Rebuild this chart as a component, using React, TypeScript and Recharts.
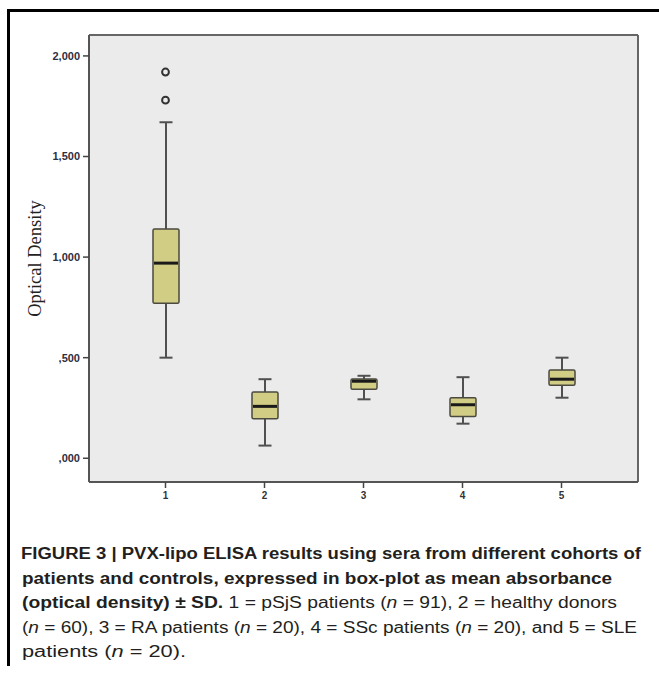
import React from 'react';
import { ComposedChart, Bar, Scatter, XAxis, YAxis, CartesianGrid } from 'recharts';

const groups = ['1', '2', '3', '4', '5'];
const whiskerLow = [0.5, 0.063, 0.293, 0.172, 0.301];
const quartile1 = [0.77, 0.197, 0.343, 0.207, 0.363];
const medians = [0.97, 0.258, 0.383, 0.266, 0.393];
const quartile3 = [1.14, 0.33, 0.394, 0.301, 0.439];
const whiskerHigh = [1.67, 0.393, 0.41, 0.403, 0.5];
const outlierGroups = ['1', '1'];
const outlierValues = [1.92, 1.78];
const yTicks = [0, 0.5, 1, 1.5, 2];
const Y_MIN = -0.118;
const Y_MAX = 2.104;

const boxData = groups.map((g, i) => ({
  g,
  lo: whiskerLow[i],
  q1: quartile1[i],
  med: medians[i],
  q3: quartile3[i],
  hi: whiskerHigh[i],
}));
const outlierData = outlierGroups.map((g, i) => ({ g, v: outlierValues[i] }));

const fmt = (v: number) => v.toFixed(3).replace('.', ',').replace(/^0/, '');

const BoxShape = (props: any) => {
  const { x, y, width, height, payload } = props;
  if (payload == null) return null;
  const top = Math.min(y, y + height);
  const h = Math.abs(height);
  const { lo, q1, med, q3, hi } = payload;
  const py = (v: number) => top + ((hi - v) / (hi - lo)) * h;
  const cx = x + width / 2;
  const capW = width / 2;
  const ws = '#505050';
  return (
    <g>
      <line x1={cx} x2={cx} y1={py(hi)} y2={py(q3)} stroke={ws} strokeWidth={2} />
      <line x1={cx} x2={cx} y1={py(q1)} y2={py(lo)} stroke={ws} strokeWidth={2} />
      <line x1={cx - capW / 2} x2={cx + capW / 2} y1={py(hi)} y2={py(hi)} stroke={ws} strokeWidth={2} />
      <line x1={cx - capW / 2} x2={cx + capW / 2} y1={py(lo)} y2={py(lo)} stroke={ws} strokeWidth={2} />
      <rect x={x} y={py(q3)} width={width} height={py(q1) - py(q3)} rx={1.5} fill="#D2CD84" stroke="#4a4a40" strokeWidth={1.5} />
      <line x1={x + 1} x2={x + width - 1} y1={py(med)} y2={py(med)} stroke="#1a1a1a" strokeWidth={3} />
    </g>
  );
};

const OutlierShape = (props: any) => {
  const { cx, cy } = props;
  return <circle cx={cx} cy={cy} r={3.4} fill="#EBEBEB" stroke="#333" strokeWidth={2} />;
};

const YLabel = (props: any) => {
  const vb = props.viewBox || {};
  const x = (vb.x ?? 0) + 6;
  const y = (vb.y ?? 0) + (vb.height ?? 0) / 2;
  return (
    <text
      x={x}
      y={y}
      transform={`rotate(-90, ${x}, ${y})`}
      textAnchor="middle"
      dominantBaseline="central"
      fontFamily="'Liberation Serif', 'Times New Roman', serif"
      fontSize={18.5}
      fill="#222"
    >
      Optical Density
    </text>
  );
};

const capFont = "'Liberation Sans', Arial, Helvetica, sans-serif";

const edgeRows = (p: any) => {
  const o = p.offset || {};
  return [o.top, o.top + o.height];
};
const edgeCols = (p: any) => {
  const o = p.offset || {};
  return [o.left, o.left + o.width];
};

export default function App() {
  return (
    <div style={{ position: 'absolute', left: 0, top: 0, width: 659, height: 674, background: '#fff', overflow: 'hidden' }}>
      <ComposedChart
        width={659}
        height={520}
        data={boxData}
        margin={{ top: 35, right: 21, left: 29, bottom: 8 }}
      >
        <CartesianGrid
          fill="#EBEBEB"
          fillOpacity={1}
          stroke="#666"
          strokeWidth={2}
          horizontalCoordinatesGenerator={edgeRows}
          verticalCoordinatesGenerator={edgeCols}
        />
        <XAxis
          dataKey="g"
          type="category"
          allowDuplicatedCategory={false}
          padding={{ left: 27, right: 27 }}
          height={30}
          tickSize={6}
          tickMargin={4}
          axisLine={{ stroke: '#555', strokeWidth: 2 }}
          tickLine={{ stroke: '#444', strokeWidth: 1.5 }}
          tick={{ fontSize: 10, fontWeight: 'bold', fill: '#333', fontFamily: capFont }}
        />
        <YAxis
          type="number"
          domain={[Y_MIN, Y_MAX]}
          allowDataOverflow
          ticks={yTicks}
          tickFormatter={fmt}
          width={60}
          tickSize={6}
          tickMargin={3}
          axisLine={{ stroke: '#555', strokeWidth: 2 }}
          tickLine={{ stroke: '#444', strokeWidth: 1.5 }}
          tick={{ fontSize: 11, fontWeight: 'bold', fill: '#2e2e3e', fontFamily: capFont }}
          label={<YLabel />}
        />
        <Bar
          dataKey={(d: any) => [d.lo, d.hi]}
          barSize={26}
          shape={<BoxShape />}
          isAnimationActive={false}
        />
        <Scatter data={outlierData} dataKey="v" shape={<OutlierShape />} isAnimationActive={false} />
      </ComposedChart>
      <svg width={659} height={674} style={{ position: 'absolute', left: 0, top: 0, pointerEvents: 'none' }}>
        <g fontFamily={capFont} fontSize={16} fill="#231f20">
          <text x={21} y={559} fontWeight="bold" textLength={620} lengthAdjust="spacingAndGlyphs">
            FIGURE 3 | PVX-lipo ELISA results using sera from different cohorts of
          </text>
          <text x={22} y={584} fontWeight="bold" textLength={590} lengthAdjust="spacingAndGlyphs">
            patients and controls, expressed in box-plot as mean absorbance
          </text>
          <text x={22} y={608} textLength={595} lengthAdjust="spacingAndGlyphs">
            <tspan fontWeight="bold">(optical density) ± SD.</tspan>
            {' 1 = pSjS patients ('}
            <tspan fontStyle="italic">n</tspan>
            {' = 91), 2 = healthy donors'}
          </text>
          <text x={22} y={633} textLength={615} lengthAdjust="spacingAndGlyphs">
            {'('}
            <tspan fontStyle="italic">n</tspan>
            {' = 60), 3 = RA patients ('}
            <tspan fontStyle="italic">n</tspan>
            {' = 20), 4 = SSc patients ('}
            <tspan fontStyle="italic">n</tspan>
            {' = 20), and 5 = SLE'}
          </text>
          <text x={22} y={657} textLength={164} lengthAdjust="spacingAndGlyphs">
            {'patients ('}
            <tspan fontStyle="italic">n</tspan>
            {' = 20).'}
          </text>
        </g>
      </svg>
      <div
        style={{
          position: 'absolute',
          left: 7,
          top: 9,
          width: 660,
          height: 657,
          borderLeft: '3px solid #000',
          borderTop: '3px solid #000',
          boxSizing: 'border-box',
          pointerEvents: 'none',
        }}
      />
    </div>
  );
}
